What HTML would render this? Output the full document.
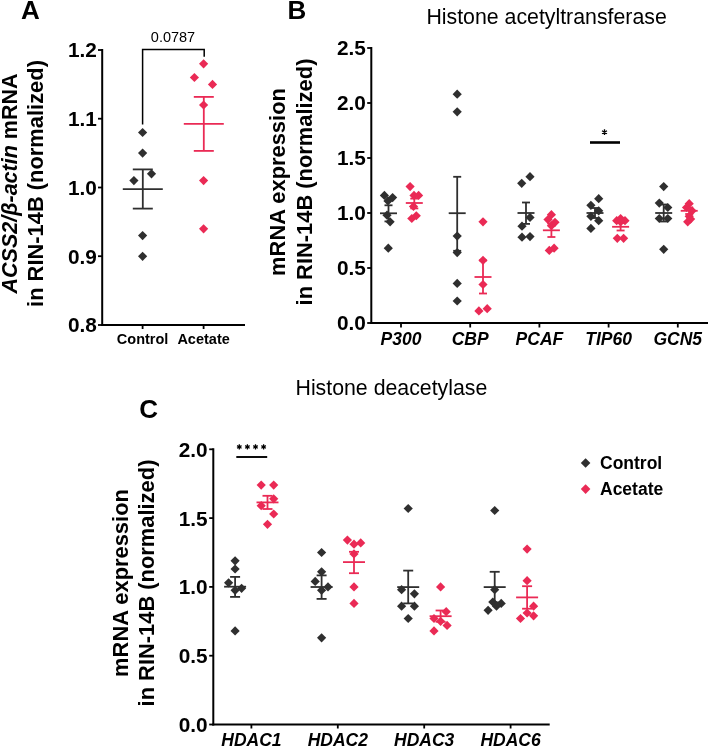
<!DOCTYPE html>
<html><head><meta charset="utf-8"><style>
html,body{margin:0;padding:0;background:#fff;}
svg{display:block;will-change:transform;}
text{font-family:"Liberation Sans", sans-serif;fill:#000;}
</style></head><body>
<svg width="708" height="747" viewBox="0 0 708 747">
<rect width="708" height="747" fill="#fff"/>
<text x="30.3" y="18.9" font-size="26" font-weight="bold" font-style="normal" text-anchor="middle" >A</text>
<line x1="102.2" y1="49.0" x2="102.2" y2="325.9" stroke="#000000" stroke-width="2"/>
<line x1="98.0" y1="50.0" x2="102.2" y2="50.0" stroke="#000000" stroke-width="1.8"/>
<text x="96.8" y="57.4" font-size="20.8" font-weight="bold" font-style="normal" text-anchor="end" >1.2</text>
<line x1="98.0" y1="118.7" x2="102.2" y2="118.7" stroke="#000000" stroke-width="1.8"/>
<text x="96.8" y="126.1" font-size="20.8" font-weight="bold" font-style="normal" text-anchor="end" >1.1</text>
<line x1="98.0" y1="187.5" x2="102.2" y2="187.5" stroke="#000000" stroke-width="1.8"/>
<text x="96.8" y="194.9" font-size="20.8" font-weight="bold" font-style="normal" text-anchor="end" >1.0</text>
<line x1="98.0" y1="256.2" x2="102.2" y2="256.2" stroke="#000000" stroke-width="1.8"/>
<text x="96.8" y="263.6" font-size="20.8" font-weight="bold" font-style="normal" text-anchor="end" >0.9</text>
<line x1="98.0" y1="325.0" x2="102.2" y2="325.0" stroke="#000000" stroke-width="1.8"/>
<text x="96.8" y="332.4" font-size="20.8" font-weight="bold" font-style="normal" text-anchor="end" >0.8</text>
<line x1="101.2" y1="325.0" x2="245.0" y2="325.0" stroke="#000000" stroke-width="2"/>
<line x1="142.6" y1="325.0" x2="142.6" y2="329.0" stroke="#000000" stroke-width="1.8"/>
<line x1="203.6" y1="325.0" x2="203.6" y2="329.0" stroke="#000000" stroke-width="1.8"/>
<text x="142.6" y="343.8" font-size="14.5" font-weight="bold" font-style="normal" text-anchor="middle" >Control</text>
<text x="203.6" y="343.8" font-size="14.5" font-weight="bold" font-style="normal" text-anchor="middle" >Acetate</text>
<path d="M142.6 124.4V49.5H204.2V56.8" fill="none" stroke="#000000" stroke-width="1.5"/>
<text x="173.0" y="41.8" font-size="14.5" font-weight="normal" font-style="normal" text-anchor="middle" >0.0787</text>
<text transform="translate(16.9,183.5) rotate(-90)" font-size="21.5" font-weight="bold" text-anchor="middle"><tspan font-style="italic">ACSS2/β-actin</tspan> mRNA</text>
<text transform="translate(42.9,183.5) rotate(-90)" font-size="21.9" font-weight="bold" text-anchor="middle">in RIN-14B (normalized)</text>
<path d="M142.6 127.9L147.2 132.5L142.6 137.1L138.0 132.5Z" fill="#2f2f2f"/>
<path d="M142.6 148.5L147.2 153.1L142.6 157.7L138.0 153.1Z" fill="#2f2f2f"/>
<path d="M133.9 176.0L138.5 180.6L133.9 185.2L129.3 180.6Z" fill="#2f2f2f"/>
<path d="M151.5 169.2L156.1 173.8L151.5 178.4L146.9 173.8Z" fill="#2f2f2f"/>
<path d="M142.6 231.0L147.2 235.6L142.6 240.2L138.0 235.6Z" fill="#2f2f2f"/>
<path d="M142.6 251.7L147.2 256.2L142.6 260.9L138.0 256.2Z" fill="#2f2f2f"/>
<path d="M203.6 59.2L208.2 63.8L203.6 68.4L199.0 63.8Z" fill="#ea2a55"/>
<path d="M194.4 72.9L199.0 77.5L194.4 82.1L189.8 77.5Z" fill="#ea2a55"/>
<path d="M212.5 79.8L217.1 84.4L212.5 89.0L207.9 84.4Z" fill="#ea2a55"/>
<path d="M203.6 100.4L208.2 105.0L203.6 109.6L199.0 105.0Z" fill="#ea2a55"/>
<path d="M203.6 176.0L208.2 180.6L203.6 185.2L199.0 180.6Z" fill="#ea2a55"/>
<path d="M203.6 224.2L208.2 228.8L203.6 233.4L199.0 228.8Z" fill="#ea2a55"/>
<line x1="122.8" y1="189.1" x2="162.8" y2="189.1" stroke="#2f2f2f" stroke-width="1.8"/><line x1="142.8" y1="169.4" x2="142.8" y2="208.6" stroke="#2f2f2f" stroke-width="1.8"/><line x1="132.8" y1="169.4" x2="152.8" y2="169.4" stroke="#2f2f2f" stroke-width="1.8"/><line x1="132.8" y1="208.6" x2="152.8" y2="208.6" stroke="#2f2f2f" stroke-width="1.8"/>
<line x1="183.8" y1="123.8" x2="223.8" y2="123.8" stroke="#ea2a55" stroke-width="1.8"/><line x1="203.8" y1="96.9" x2="203.8" y2="150.9" stroke="#ea2a55" stroke-width="1.8"/><line x1="193.8" y1="96.9" x2="213.8" y2="96.9" stroke="#ea2a55" stroke-width="1.8"/><line x1="193.8" y1="150.9" x2="213.8" y2="150.9" stroke="#ea2a55" stroke-width="1.8"/>
<text x="297.0" y="19.4" font-size="26" font-weight="bold" font-style="normal" text-anchor="middle" >B</text>
<text x="546.6" y="23.7" font-size="21.3" font-weight="normal" font-style="normal" text-anchor="middle" >Histone acetyltransferase</text>
<line x1="371.3" y1="47.0" x2="371.3" y2="323.9" stroke="#000000" stroke-width="2"/>
<line x1="367.2" y1="323.0" x2="371.3" y2="323.0" stroke="#000000" stroke-width="1.8"/>
<text x="365.8" y="330.4" font-size="20.8" font-weight="bold" font-style="normal" text-anchor="end" >0.0</text>
<line x1="367.2" y1="268.0" x2="371.3" y2="268.0" stroke="#000000" stroke-width="1.8"/>
<text x="365.8" y="275.4" font-size="20.8" font-weight="bold" font-style="normal" text-anchor="end" >0.5</text>
<line x1="367.2" y1="213.0" x2="371.3" y2="213.0" stroke="#000000" stroke-width="1.8"/>
<text x="365.8" y="220.4" font-size="20.8" font-weight="bold" font-style="normal" text-anchor="end" >1.0</text>
<line x1="367.2" y1="158.0" x2="371.3" y2="158.0" stroke="#000000" stroke-width="1.8"/>
<text x="365.8" y="165.4" font-size="20.8" font-weight="bold" font-style="normal" text-anchor="end" >1.5</text>
<line x1="367.2" y1="103.0" x2="371.3" y2="103.0" stroke="#000000" stroke-width="1.8"/>
<text x="365.8" y="110.4" font-size="20.8" font-weight="bold" font-style="normal" text-anchor="end" >2.0</text>
<line x1="367.2" y1="48.0" x2="371.3" y2="48.0" stroke="#000000" stroke-width="1.8"/>
<text x="365.8" y="55.4" font-size="20.8" font-weight="bold" font-style="normal" text-anchor="end" >2.5</text>
<line x1="370.3" y1="323.0" x2="708.0" y2="323.0" stroke="#000000" stroke-width="2"/>
<line x1="401.0" y1="323.0" x2="401.0" y2="327.5" stroke="#000000" stroke-width="1.8"/>
<text x="401.0" y="344.5" font-size="17.5" font-weight="bold" font-style="italic" text-anchor="middle" >P300</text>
<line x1="470.2" y1="323.0" x2="470.2" y2="327.5" stroke="#000000" stroke-width="1.8"/>
<text x="470.2" y="344.5" font-size="17.5" font-weight="bold" font-style="italic" text-anchor="middle" >CBP</text>
<line x1="539.4" y1="323.0" x2="539.4" y2="327.5" stroke="#000000" stroke-width="1.8"/>
<text x="539.4" y="344.5" font-size="17.5" font-weight="bold" font-style="italic" text-anchor="middle" >PCAF</text>
<line x1="608.6" y1="323.0" x2="608.6" y2="327.5" stroke="#000000" stroke-width="1.8"/>
<text x="608.6" y="344.5" font-size="17.5" font-weight="bold" font-style="italic" text-anchor="middle" >TIP60</text>
<line x1="677.8" y1="323.0" x2="677.8" y2="327.5" stroke="#000000" stroke-width="1.8"/>
<text x="677.8" y="344.5" font-size="17.5" font-weight="bold" font-style="italic" text-anchor="middle" >GCN5</text>
<text transform="translate(285.2,182) rotate(-90)" font-size="21.9" font-weight="bold" text-anchor="middle">mRNA expression</text>
<text transform="translate(311.6,182.0) rotate(-90)" font-size="21.9" font-weight="bold" text-anchor="middle">in RIN-14B (normalized)</text>
<line x1="590.0" y1="142.5" x2="620.0" y2="142.5" stroke="#000000" stroke-width="2.6"/>
<path d="M604.50 129.30L604.50 135.10M601.99 130.75L607.01 133.65M607.01 130.75L601.99 133.65" stroke="#000" stroke-width="1.3" fill="none"/>
<path d="M384.4 190.8L389.0 195.4L384.4 200.0L379.8 195.4Z" fill="#2f2f2f"/>
<path d="M392.6 193.0L397.2 197.6L392.6 202.2L388.0 197.6Z" fill="#2f2f2f"/>
<path d="M388.0 196.3L392.6 200.9L388.0 205.5L383.4 200.9Z" fill="#2f2f2f"/>
<path d="M387.0 210.6L391.6 215.2L387.0 219.8L382.4 215.2Z" fill="#2f2f2f"/>
<path d="M390.1 217.2L394.7 221.8L390.1 226.4L385.5 221.8Z" fill="#2f2f2f"/>
<path d="M388.3 243.6L392.9 248.2L388.3 252.8L383.7 248.2Z" fill="#2f2f2f"/>
<path d="M410.1 182.0L414.7 186.6L410.1 191.2L405.5 186.6Z" fill="#ea2a55"/>
<path d="M414.0 190.8L418.6 195.4L414.0 200.0L409.4 195.4Z" fill="#ea2a55"/>
<path d="M418.6 190.8L423.2 195.4L418.6 200.0L414.0 195.4Z" fill="#ea2a55"/>
<path d="M413.5 201.8L418.1 206.4L413.5 211.0L408.9 206.4Z" fill="#ea2a55"/>
<path d="M411.8 213.9L416.4 218.5L411.8 223.1L407.2 218.5Z" fill="#ea2a55"/>
<path d="M416.3 211.2L420.9 215.8L416.3 220.3L411.7 215.8Z" fill="#ea2a55"/>
<path d="M457.2 89.6L461.8 94.2L457.2 98.8L452.6 94.2Z" fill="#2f2f2f"/>
<path d="M457.2 107.2L461.8 111.8L457.2 116.4L452.6 111.8Z" fill="#2f2f2f"/>
<path d="M457.2 231.5L461.8 236.1L457.2 240.7L452.6 236.1Z" fill="#2f2f2f"/>
<path d="M457.2 248.0L461.8 252.6L457.2 257.2L452.6 252.6Z" fill="#2f2f2f"/>
<path d="M457.2 278.8L461.8 283.4L457.2 288.0L452.6 283.4Z" fill="#2f2f2f"/>
<path d="M457.2 296.4L461.8 301.0L457.2 305.6L452.6 301.0Z" fill="#2f2f2f"/>
<path d="M483.0 217.2L487.6 221.8L483.0 226.4L478.4 221.8Z" fill="#ea2a55"/>
<path d="M483.0 255.7L487.6 260.3L483.0 264.9L478.4 260.3Z" fill="#ea2a55"/>
<path d="M483.0 279.9L487.6 284.5L483.0 289.1L478.4 284.5Z" fill="#ea2a55"/>
<path d="M478.9 306.3L483.5 310.9L478.9 315.5L474.3 310.9Z" fill="#ea2a55"/>
<path d="M487.2 304.1L491.8 308.7L487.2 313.3L482.6 308.7Z" fill="#ea2a55"/>
<path d="M521.7 178.7L526.3 183.3L521.7 187.9L517.1 183.3Z" fill="#2f2f2f"/>
<path d="M530.0 172.1L534.6 176.7L530.0 181.3L525.4 176.7Z" fill="#2f2f2f"/>
<path d="M530.0 212.8L534.6 217.4L530.0 222.0L525.4 217.4Z" fill="#2f2f2f"/>
<path d="M522.0 221.6L526.6 226.2L522.0 230.8L517.4 226.2Z" fill="#2f2f2f"/>
<path d="M522.0 232.6L526.6 237.2L522.0 241.8L517.4 237.2Z" fill="#2f2f2f"/>
<path d="M530.0 232.0L534.6 236.6L530.0 241.2L525.4 236.6Z" fill="#2f2f2f"/>
<path d="M551.4 210.1L556.0 214.7L551.4 219.2L546.8 214.7Z" fill="#ea2a55"/>
<path d="M548.0 215.0L552.6 219.6L548.0 224.2L543.4 219.6Z" fill="#ea2a55"/>
<path d="M555.0 217.8L559.6 222.3L555.0 226.9L550.4 222.3Z" fill="#ea2a55"/>
<path d="M551.4 221.1L556.0 225.7L551.4 230.2L546.8 225.7Z" fill="#ea2a55"/>
<path d="M549.3 245.8L553.9 250.4L549.3 255.0L544.7 250.4Z" fill="#ea2a55"/>
<path d="M554.1 243.6L558.7 248.2L554.1 252.8L549.5 248.2Z" fill="#ea2a55"/>
<path d="M598.7 194.1L603.3 198.7L598.7 203.3L594.1 198.7Z" fill="#2f2f2f"/>
<path d="M590.9 200.7L595.5 205.3L590.9 209.9L586.3 205.3Z" fill="#2f2f2f"/>
<path d="M598.7 206.2L603.3 210.8L598.7 215.4L594.1 210.8Z" fill="#2f2f2f"/>
<path d="M590.9 211.7L595.5 216.3L590.9 220.9L586.3 216.3Z" fill="#2f2f2f"/>
<path d="M598.7 216.1L603.3 220.7L598.7 225.3L594.1 220.7Z" fill="#2f2f2f"/>
<path d="M590.9 223.8L595.5 228.4L590.9 233.0L586.3 228.4Z" fill="#2f2f2f"/>
<path d="M616.7 216.1L621.3 220.7L616.7 225.3L612.1 220.7Z" fill="#ea2a55"/>
<path d="M620.6 213.9L625.2 218.5L620.6 223.1L616.0 218.5Z" fill="#ea2a55"/>
<path d="M625.0 216.1L629.6 220.7L625.0 225.3L620.4 220.7Z" fill="#ea2a55"/>
<path d="M617.3 233.7L621.9 238.3L617.3 242.9L612.7 238.3Z" fill="#ea2a55"/>
<path d="M623.6 233.7L628.2 238.3L623.6 242.9L619.0 238.3Z" fill="#ea2a55"/>
<path d="M620.6 217.2L625.2 221.8L620.6 226.4L616.0 221.8Z" fill="#ea2a55"/>
<path d="M663.7 182.0L668.3 186.6L663.7 191.2L659.1 186.6Z" fill="#2f2f2f"/>
<path d="M659.3 198.5L663.9 203.1L659.3 207.7L654.7 203.1Z" fill="#2f2f2f"/>
<path d="M667.8 202.9L672.4 207.5L667.8 212.1L663.2 207.5Z" fill="#2f2f2f"/>
<path d="M659.3 213.9L663.9 218.5L659.3 223.1L654.7 218.5Z" fill="#2f2f2f"/>
<path d="M667.8 213.9L672.4 218.5L667.8 223.1L663.2 218.5Z" fill="#2f2f2f"/>
<path d="M663.7 244.7L668.3 249.3L663.7 253.9L659.1 249.3Z" fill="#2f2f2f"/>
<path d="M689.2 199.1L693.8 203.7L689.2 208.2L684.6 203.7Z" fill="#ea2a55"/>
<path d="M692.1 206.2L696.7 210.8L692.1 215.4L687.5 210.8Z" fill="#ea2a55"/>
<path d="M686.5 202.9L691.1 207.5L686.5 212.1L681.9 207.5Z" fill="#ea2a55"/>
<path d="M689.2 211.7L693.8 216.3L689.2 220.9L684.6 216.3Z" fill="#ea2a55"/>
<path d="M687.7 217.2L692.3 221.8L687.7 226.4L683.1 221.8Z" fill="#ea2a55"/>
<path d="M690.6 214.5L695.2 219.1L690.6 223.7L686.0 219.1Z" fill="#ea2a55"/>
<line x1="380.0" y1="213.3" x2="397.0" y2="213.3" stroke="#2f2f2f" stroke-width="1.8"/><line x1="388.5" y1="205.3" x2="388.5" y2="221.4" stroke="#2f2f2f" stroke-width="1.8"/><line x1="384.5" y1="205.3" x2="392.5" y2="205.3" stroke="#2f2f2f" stroke-width="1.8"/><line x1="384.5" y1="221.4" x2="392.5" y2="221.4" stroke="#2f2f2f" stroke-width="1.8"/>
<line x1="448.7" y1="213.2" x2="465.7" y2="213.2" stroke="#2f2f2f" stroke-width="1.8"/><line x1="457.2" y1="176.8" x2="457.2" y2="250.8" stroke="#2f2f2f" stroke-width="1.8"/><line x1="453.2" y1="176.8" x2="461.2" y2="176.8" stroke="#2f2f2f" stroke-width="1.8"/><line x1="453.2" y1="250.8" x2="461.2" y2="250.8" stroke="#2f2f2f" stroke-width="1.8"/>
<line x1="517.5" y1="213.0" x2="534.5" y2="213.0" stroke="#2f2f2f" stroke-width="1.8"/><line x1="526.0" y1="202.5" x2="526.0" y2="223.9" stroke="#2f2f2f" stroke-width="1.8"/><line x1="522.0" y1="202.5" x2="530.0" y2="202.5" stroke="#2f2f2f" stroke-width="1.8"/><line x1="522.0" y1="223.9" x2="530.0" y2="223.9" stroke="#2f2f2f" stroke-width="1.8"/>
<line x1="586.5" y1="213.0" x2="603.5" y2="213.0" stroke="#2f2f2f" stroke-width="1.8"/><line x1="595.0" y1="208.0" x2="595.0" y2="218.0" stroke="#2f2f2f" stroke-width="1.8"/><line x1="591.0" y1="208.0" x2="599.0" y2="208.0" stroke="#2f2f2f" stroke-width="1.8"/><line x1="591.0" y1="218.0" x2="599.0" y2="218.0" stroke="#2f2f2f" stroke-width="1.8"/>
<line x1="655.2" y1="213.0" x2="672.2" y2="213.0" stroke="#2f2f2f" stroke-width="1.8"/><line x1="663.7" y1="204.5" x2="663.7" y2="221.5" stroke="#2f2f2f" stroke-width="1.8"/><line x1="659.7" y1="204.5" x2="667.7" y2="204.5" stroke="#2f2f2f" stroke-width="1.8"/><line x1="659.7" y1="221.5" x2="667.7" y2="221.5" stroke="#2f2f2f" stroke-width="1.8"/>
<line x1="405.8" y1="203.0" x2="422.8" y2="203.0" stroke="#ea2a55" stroke-width="1.8"/><line x1="414.3" y1="198.6" x2="414.3" y2="208.4" stroke="#ea2a55" stroke-width="1.8"/><line x1="410.3" y1="198.6" x2="418.3" y2="198.6" stroke="#ea2a55" stroke-width="1.8"/><line x1="410.3" y1="208.4" x2="418.3" y2="208.4" stroke="#ea2a55" stroke-width="1.8"/>
<line x1="474.5" y1="277.0" x2="491.5" y2="277.0" stroke="#ea2a55" stroke-width="1.8"/><line x1="483.0" y1="260.5" x2="483.0" y2="293.5" stroke="#ea2a55" stroke-width="1.8"/><line x1="479.0" y1="260.5" x2="487.0" y2="260.5" stroke="#ea2a55" stroke-width="1.8"/><line x1="479.0" y1="293.5" x2="487.0" y2="293.5" stroke="#ea2a55" stroke-width="1.8"/>
<line x1="542.9" y1="230.3" x2="559.9" y2="230.3" stroke="#ea2a55" stroke-width="1.8"/><line x1="551.4" y1="223.6" x2="551.4" y2="237.0" stroke="#ea2a55" stroke-width="1.8"/><line x1="547.4" y1="223.6" x2="555.4" y2="223.6" stroke="#ea2a55" stroke-width="1.8"/><line x1="547.4" y1="237.0" x2="555.4" y2="237.0" stroke="#ea2a55" stroke-width="1.8"/>
<line x1="612.1" y1="226.8" x2="629.1" y2="226.8" stroke="#ea2a55" stroke-width="1.8"/><line x1="620.6" y1="223.0" x2="620.6" y2="230.5" stroke="#ea2a55" stroke-width="1.8"/><line x1="616.6" y1="223.0" x2="624.6" y2="223.0" stroke="#ea2a55" stroke-width="1.8"/><line x1="616.6" y1="230.5" x2="624.6" y2="230.5" stroke="#ea2a55" stroke-width="1.8"/>
<line x1="680.7" y1="210.8" x2="697.7" y2="210.8" stroke="#ea2a55" stroke-width="1.8"/><line x1="689.2" y1="207.5" x2="689.2" y2="214.0" stroke="#ea2a55" stroke-width="1.8"/><line x1="685.2" y1="207.5" x2="693.2" y2="207.5" stroke="#ea2a55" stroke-width="1.8"/><line x1="685.2" y1="214.0" x2="693.2" y2="214.0" stroke="#ea2a55" stroke-width="1.8"/>
<text x="148.6" y="418.2" font-size="26" font-weight="bold" font-style="normal" text-anchor="middle" >C</text>
<text x="391.4" y="394.5" font-size="21.3" font-weight="normal" font-style="normal" text-anchor="middle" >Histone deacetylase</text>
<line x1="213.3" y1="448.3" x2="213.3" y2="725.4" stroke="#000000" stroke-width="2"/>
<line x1="209.2" y1="724.5" x2="213.3" y2="724.5" stroke="#000000" stroke-width="1.8"/>
<text x="207.6" y="731.9" font-size="20.8" font-weight="bold" font-style="normal" text-anchor="end" >0.0</text>
<line x1="209.2" y1="655.7" x2="213.3" y2="655.7" stroke="#000000" stroke-width="1.8"/>
<text x="207.6" y="663.1" font-size="20.8" font-weight="bold" font-style="normal" text-anchor="end" >0.5</text>
<line x1="209.2" y1="586.9" x2="213.3" y2="586.9" stroke="#000000" stroke-width="1.8"/>
<text x="207.6" y="594.3" font-size="20.8" font-weight="bold" font-style="normal" text-anchor="end" >1.0</text>
<line x1="209.2" y1="518.1" x2="213.3" y2="518.1" stroke="#000000" stroke-width="1.8"/>
<text x="207.6" y="525.5" font-size="20.8" font-weight="bold" font-style="normal" text-anchor="end" >1.5</text>
<line x1="209.2" y1="449.3" x2="213.3" y2="449.3" stroke="#000000" stroke-width="1.8"/>
<text x="207.6" y="456.7" font-size="20.8" font-weight="bold" font-style="normal" text-anchor="end" >2.0</text>
<line x1="212.3" y1="724.5" x2="549.7" y2="724.5" stroke="#000000" stroke-width="2"/>
<line x1="251.4" y1="724.5" x2="251.4" y2="728.5" stroke="#000000" stroke-width="1.8"/>
<text x="251.4" y="745.8" font-size="17.5" font-weight="bold" font-style="italic" text-anchor="middle" >HDAC1</text>
<line x1="337.8" y1="724.5" x2="337.8" y2="728.5" stroke="#000000" stroke-width="1.8"/>
<text x="337.8" y="745.8" font-size="17.5" font-weight="bold" font-style="italic" text-anchor="middle" >HDAC2</text>
<line x1="424.2" y1="724.5" x2="424.2" y2="728.5" stroke="#000000" stroke-width="1.8"/>
<text x="424.2" y="745.8" font-size="17.5" font-weight="bold" font-style="italic" text-anchor="middle" >HDAC3</text>
<line x1="510.6" y1="724.5" x2="510.6" y2="728.5" stroke="#000000" stroke-width="1.8"/>
<text x="510.6" y="745.8" font-size="17.5" font-weight="bold" font-style="italic" text-anchor="middle" >HDAC6</text>
<text transform="translate(127.7,583) rotate(-90)" font-size="21.9" font-weight="bold" text-anchor="middle">mRNA expression</text>
<text transform="translate(153.5,583.0) rotate(-90)" font-size="21.9" font-weight="bold" text-anchor="middle">in RIN-14B (normalized)</text>
<line x1="236.3" y1="457.0" x2="267.2" y2="457.0" stroke="#000000" stroke-width="1.9"/>
<path d="M239.30 444.30L239.30 449.50M237.05 445.60L241.55 448.20M241.55 445.60L237.05 448.20" stroke="#000" stroke-width="1.25" fill="none"/>
<path d="M247.40 444.30L247.40 449.50M245.15 445.60L249.65 448.20M249.65 445.60L245.15 448.20" stroke="#000" stroke-width="1.25" fill="none"/>
<path d="M255.50 444.30L255.50 449.50M253.25 445.60L257.75 448.20M257.75 445.60L253.25 448.20" stroke="#000" stroke-width="1.25" fill="none"/>
<path d="M263.60 444.30L263.60 449.50M261.35 445.60L265.85 448.20M265.85 445.60L261.35 448.20" stroke="#000" stroke-width="1.25" fill="none"/>
<path d="M235.1 556.2L239.7 560.8L235.1 565.4L230.5 560.8Z" fill="#2f2f2f"/>
<path d="M235.1 564.4L239.7 569.0L235.1 573.6L230.5 569.0Z" fill="#2f2f2f"/>
<path d="M228.6 578.2L233.2 582.8L228.6 587.4L224.0 582.8Z" fill="#2f2f2f"/>
<path d="M241.6 583.7L246.2 588.3L241.6 592.9L237.0 588.3Z" fill="#2f2f2f"/>
<path d="M235.1 585.7L239.7 590.3L235.1 594.9L230.5 590.3Z" fill="#2f2f2f"/>
<path d="M235.1 626.3L239.7 630.9L235.1 635.5L230.5 630.9Z" fill="#2f2f2f"/>
<path d="M261.2 480.5L265.8 485.1L261.2 489.7L256.6 485.1Z" fill="#ea2a55"/>
<path d="M273.7 480.5L278.3 485.1L273.7 489.7L269.1 485.1Z" fill="#ea2a55"/>
<path d="M273.7 494.2L278.3 498.8L273.7 503.4L269.1 498.8Z" fill="#ea2a55"/>
<path d="M261.2 501.1L265.8 505.7L261.2 510.3L256.6 505.7Z" fill="#ea2a55"/>
<path d="M273.7 509.4L278.3 514.0L273.7 518.6L269.1 514.0Z" fill="#ea2a55"/>
<path d="M267.5 519.7L272.1 524.3L267.5 528.9L262.9 524.3Z" fill="#ea2a55"/>
<path d="M321.6 547.9L326.2 552.5L321.6 557.1L317.0 552.5Z" fill="#2f2f2f"/>
<path d="M321.6 567.2L326.2 571.8L321.6 576.4L317.0 571.8Z" fill="#2f2f2f"/>
<path d="M315.2 576.8L319.8 581.4L315.2 586.0L310.6 581.4Z" fill="#2f2f2f"/>
<path d="M328.0 582.3L332.6 586.9L328.0 591.5L323.4 586.9Z" fill="#2f2f2f"/>
<path d="M321.6 585.7L326.2 590.3L321.6 594.9L317.0 590.3Z" fill="#2f2f2f"/>
<path d="M321.6 633.2L326.2 637.8L321.6 642.4L317.0 637.8Z" fill="#2f2f2f"/>
<path d="M347.4 535.5L352.0 540.1L347.4 544.7L342.8 540.1Z" fill="#ea2a55"/>
<path d="M354.0 539.6L358.6 544.2L354.0 548.8L349.4 544.2Z" fill="#ea2a55"/>
<path d="M360.7 538.3L365.3 542.9L360.7 547.5L356.1 542.9Z" fill="#ea2a55"/>
<path d="M354.0 549.3L358.6 553.9L354.0 558.5L349.4 553.9Z" fill="#ea2a55"/>
<path d="M354.0 582.3L358.6 586.9L354.0 591.5L349.4 586.9Z" fill="#ea2a55"/>
<path d="M354.0 598.8L358.6 603.4L354.0 608.0L349.4 603.4Z" fill="#ea2a55"/>
<path d="M408.2 503.9L412.8 508.5L408.2 513.1L403.6 508.5Z" fill="#2f2f2f"/>
<path d="M401.6 585.1L406.2 589.7L401.6 594.3L397.0 589.7Z" fill="#2f2f2f"/>
<path d="M414.4 589.2L419.0 593.8L414.4 598.4L409.8 593.8Z" fill="#2f2f2f"/>
<path d="M401.6 601.6L406.2 606.2L401.6 610.8L397.0 606.2Z" fill="#2f2f2f"/>
<path d="M414.4 601.6L419.0 606.2L414.4 610.8L409.8 606.2Z" fill="#2f2f2f"/>
<path d="M408.2 613.9L412.8 618.5L408.2 623.1L403.6 618.5Z" fill="#2f2f2f"/>
<path d="M440.6 582.3L445.2 586.9L440.6 591.5L436.0 586.9Z" fill="#ea2a55"/>
<path d="M446.2 607.1L450.8 611.7L446.2 616.3L441.6 611.7Z" fill="#ea2a55"/>
<path d="M434.0 613.9L438.6 618.5L434.0 623.1L429.4 618.5Z" fill="#ea2a55"/>
<path d="M440.6 616.7L445.2 621.3L440.6 625.9L436.0 621.3Z" fill="#ea2a55"/>
<path d="M447.1 620.8L451.7 625.4L447.1 630.0L442.5 625.4Z" fill="#ea2a55"/>
<path d="M434.0 626.3L438.6 630.9L434.0 635.5L429.4 630.9Z" fill="#ea2a55"/>
<path d="M494.7 505.9L499.3 510.5L494.7 515.1L490.1 510.5Z" fill="#2f2f2f"/>
<path d="M494.7 585.1L499.3 589.7L494.7 594.3L490.1 589.7Z" fill="#2f2f2f"/>
<path d="M492.8 597.4L497.4 602.0L492.8 606.6L488.2 602.0Z" fill="#2f2f2f"/>
<path d="M501.2 598.8L505.8 603.4L501.2 608.0L496.6 603.4Z" fill="#2f2f2f"/>
<path d="M496.5 601.6L501.1 606.2L496.5 610.8L491.9 606.2Z" fill="#2f2f2f"/>
<path d="M488.1 605.7L492.7 610.3L488.1 614.9L483.5 610.3Z" fill="#2f2f2f"/>
<path d="M527.1 544.5L531.7 549.1L527.1 553.7L522.5 549.1Z" fill="#ea2a55"/>
<path d="M527.1 576.1L531.7 580.7L527.1 585.3L522.5 580.7Z" fill="#ea2a55"/>
<path d="M533.6 601.6L538.2 606.2L533.6 610.8L529.0 606.2Z" fill="#ea2a55"/>
<path d="M527.1 608.4L531.7 613.0L527.1 617.6L522.5 613.0Z" fill="#ea2a55"/>
<path d="M533.6 611.2L538.2 615.8L533.6 620.4L529.0 615.8Z" fill="#ea2a55"/>
<path d="M520.5 613.9L525.1 618.5L520.5 623.1L515.9 618.5Z" fill="#ea2a55"/>
<line x1="224.1" y1="586.7" x2="246.1" y2="586.7" stroke="#2f2f2f" stroke-width="1.8"/><line x1="235.1" y1="576.9" x2="235.1" y2="596.9" stroke="#2f2f2f" stroke-width="1.8"/><line x1="230.1" y1="576.9" x2="240.1" y2="576.9" stroke="#2f2f2f" stroke-width="1.8"/><line x1="230.1" y1="596.9" x2="240.1" y2="596.9" stroke="#2f2f2f" stroke-width="1.8"/>
<line x1="310.6" y1="587.0" x2="332.6" y2="587.0" stroke="#2f2f2f" stroke-width="1.8"/><line x1="321.6" y1="575.4" x2="321.6" y2="598.9" stroke="#2f2f2f" stroke-width="1.8"/><line x1="316.6" y1="575.4" x2="326.6" y2="575.4" stroke="#2f2f2f" stroke-width="1.8"/><line x1="316.6" y1="598.9" x2="326.6" y2="598.9" stroke="#2f2f2f" stroke-width="1.8"/>
<line x1="397.2" y1="587.1" x2="419.2" y2="587.1" stroke="#2f2f2f" stroke-width="1.8"/><line x1="408.2" y1="570.6" x2="408.2" y2="603.4" stroke="#2f2f2f" stroke-width="1.8"/><line x1="403.2" y1="570.6" x2="413.2" y2="570.6" stroke="#2f2f2f" stroke-width="1.8"/><line x1="403.2" y1="603.4" x2="413.2" y2="603.4" stroke="#2f2f2f" stroke-width="1.8"/>
<line x1="483.7" y1="587.1" x2="505.7" y2="587.1" stroke="#2f2f2f" stroke-width="1.8"/><line x1="494.7" y1="571.8" x2="494.7" y2="602.4" stroke="#2f2f2f" stroke-width="1.8"/><line x1="489.7" y1="571.8" x2="499.7" y2="571.8" stroke="#2f2f2f" stroke-width="1.8"/><line x1="489.7" y1="602.4" x2="499.7" y2="602.4" stroke="#2f2f2f" stroke-width="1.8"/>
<line x1="256.5" y1="502.4" x2="278.5" y2="502.4" stroke="#ea2a55" stroke-width="1.8"/><line x1="267.5" y1="495.8" x2="267.5" y2="509.0" stroke="#ea2a55" stroke-width="1.8"/><line x1="262.5" y1="495.8" x2="272.5" y2="495.8" stroke="#ea2a55" stroke-width="1.8"/><line x1="262.5" y1="509.0" x2="272.5" y2="509.0" stroke="#ea2a55" stroke-width="1.8"/>
<line x1="343.0" y1="562.1" x2="365.0" y2="562.1" stroke="#ea2a55" stroke-width="1.8"/><line x1="354.0" y1="551.8" x2="354.0" y2="573.2" stroke="#ea2a55" stroke-width="1.8"/><line x1="349.0" y1="551.8" x2="359.0" y2="551.8" stroke="#ea2a55" stroke-width="1.8"/><line x1="349.0" y1="573.2" x2="359.0" y2="573.2" stroke="#ea2a55" stroke-width="1.8"/>
<line x1="429.6" y1="616.2" x2="451.6" y2="616.2" stroke="#ea2a55" stroke-width="1.8"/><line x1="440.6" y1="610.5" x2="440.6" y2="621.8" stroke="#ea2a55" stroke-width="1.8"/><line x1="435.6" y1="610.5" x2="445.6" y2="610.5" stroke="#ea2a55" stroke-width="1.8"/><line x1="435.6" y1="621.8" x2="445.6" y2="621.8" stroke="#ea2a55" stroke-width="1.8"/>
<line x1="516.1" y1="597.4" x2="538.1" y2="597.4" stroke="#ea2a55" stroke-width="1.8"/><line x1="527.1" y1="586.2" x2="527.1" y2="608.7" stroke="#ea2a55" stroke-width="1.8"/><line x1="522.1" y1="586.2" x2="532.1" y2="586.2" stroke="#ea2a55" stroke-width="1.8"/><line x1="522.1" y1="608.7" x2="532.1" y2="608.7" stroke="#ea2a55" stroke-width="1.8"/>
<path d="M585.6 458.2L590.4 463.0L585.6 467.8L580.8 463.0Z" fill="#2f2f2f"/>
<path d="M585.6 484.3L590.4 489.1L585.6 493.9L580.8 489.1Z" fill="#ea2a55"/>
<text x="600.0" y="469.0" font-size="17.5" font-weight="bold" font-style="normal" text-anchor="start" >Control</text>
<text x="600.0" y="494.6" font-size="17.5" font-weight="bold" font-style="normal" text-anchor="start" >Acetate</text>
</svg>
</body></html>
